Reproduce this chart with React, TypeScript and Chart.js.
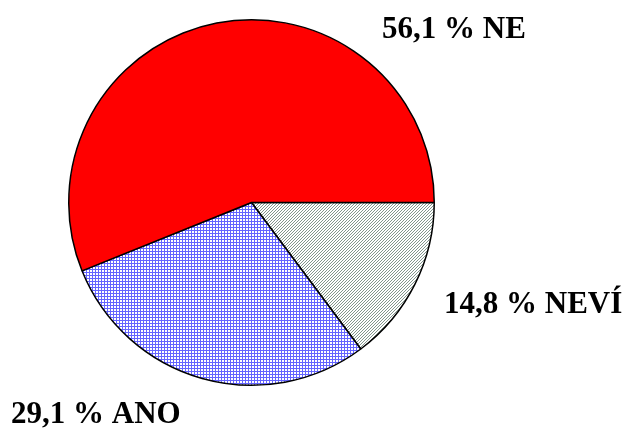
import React, { useEffect, useRef } from "react";
import { Chart, registerables } from "chart.js";

Chart.register(...registerables);

// Clockwise from 3 o'clock
const categories = ["NEVÍ", "ANO", "NE"];
const values = [14.8, 29.1, 56.1];
const labelTexts = ["14,8 % NEVÍ", "29,1 % ANO", "56,1 % NE"];

function makePattern(kind: "check" | "diag"): CanvasPattern | string {
  const c = document.createElement("canvas");
  const size = 3;
  c.width = size;
  c.height = size;
  const ctx = c.getContext("2d");
  if (!ctx) return "#ccc";
  const img = ctx.createImageData(size, size);
  for (let y = 0; y < size; y++) {
    for (let x = 0; x < size; x++) {
      const i = (y * size + x) * 4;
      let r = 255, g = 255, b = 255;
      if (kind === "check") {
        const white = x < 2 && y < 2;
        if (!white) { r = 100; g = 100; b = 255; }
      } else {
        if ((x + y) % 3 === 2) { r = 130; g = 150; b = 140; }
      }
      img.data[i] = r; img.data[i + 1] = g; img.data[i + 2] = b; img.data[i + 3] = 255;
    }
  }
  ctx.putImageData(img, 0, 0);
  const p = ctx.createPattern(c, "repeat");
  return p || "#ccc";
}

export default function App() {
  const ref = useRef<HTMLCanvasElement | null>(null);
  useEffect(() => {
    document.body.style.margin = "0";
    if (!ref.current) return;
    const labelPlugin = {
      id: "pieLabels",
      afterDraw(chart: any) {
        const ctx = chart.ctx;
        ctx.save();
        ctx.fillStyle = "#000";
        ctx.font = "bold 31px 'Liberation Serif', 'Times New Roman', serif";
        ctx.textBaseline = "alphabetic";
        ctx.textAlign = "left";
        const pos = [
          [444, 313],
          [11, 423],
          [382, 38],
        ];
        labelTexts.forEach((t, i) => ctx.fillText(t, pos[i][0], pos[i][1]));
        ctx.restore();
      },
    };
    const chart = new Chart(ref.current, {
      type: "pie",
      data: {
        labels: categories,
        datasets: [
          {
            data: values,
            backgroundColor: [makePattern("diag"), makePattern("check"), "#ff0000"],
            borderColor: "#000000",
            borderWidth: 1.5,
          },
        ],
      },
      options: {
        responsive: false,
        animation: false,
        rotation: 90,
        layout: { padding: { left: 68, top: 19, right: 190, bottom: 42 } },
        plugins: {
          legend: { display: false },
          tooltip: { enabled: false },
        },
      },
      plugins: [labelPlugin],
    });
    return () => chart.destroy();
  }, []);
  return <canvas ref={ref} width={625} height={428} style={{ display: "block" }} />;
}
